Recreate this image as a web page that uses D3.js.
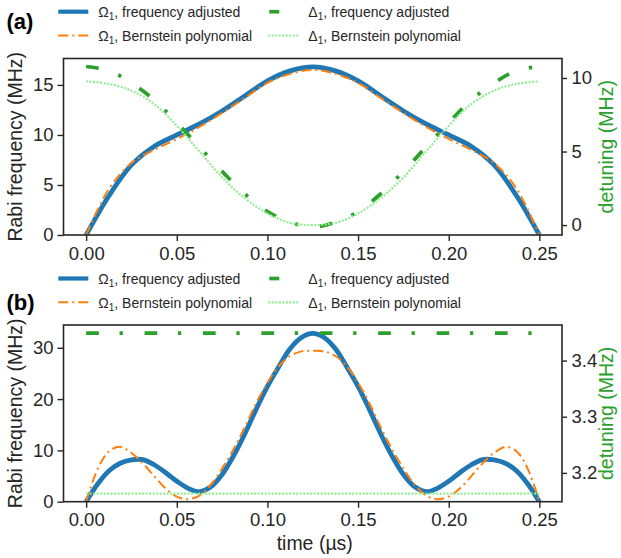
<!DOCTYPE html>
<html>
<head>
<meta charset="utf-8">
<script src="https://cdn.jsdelivr.net/npm/d3@7"></script>
<style>
  html, body { margin: 0; padding: 0; background: #fff; }
  svg { display: block; font-family: "Liberation Sans", Arial, Helvetica, sans-serif; }
</style>
</head>
<body>
<svg id="chart" width="621" height="558"></svg>
<script>
// ---- data -------------------------------------------------------------
const tickTimes = [0.00, 0.05, 0.10, 0.15, 0.20, 0.25];

// panel (a): sampled every 0.0125 µs
const timeA = [0, 0.0125, 0.025, 0.0375, 0.05, 0.0625, 0.075, 0.0875, 0.1, 0.1125, 0.125,
               0.1375, 0.15, 0.1625, 0.175, 0.1875, 0.2, 0.2125, 0.225, 0.2375, 0.25];
const omegaAdjA = [0, 3.9, 7.0, 8.85, 10.0, 11.1, 12.4, 13.9, 15.4, 16.4, 16.8,
                   16.4, 15.4, 13.9, 12.4, 11.1, 10.0, 8.85, 7.0, 3.9, 0];
const omegaBernA = [0, 4.6, 7.2, 8.5, 9.6, 10.8, 12.2, 13.7, 15.2, 16.1, 16.5,
                    16.1, 15.2, 13.7, 12.2, 10.8, 9.6, 8.5, 7.2, 4.6, 0];
const deltaAdjA = [10.78, 10.5, 9.66, 8.51, 6.96, 5.31, 3.65, 2.13, 0.92, 0.2, -0.13,
                   0.2, 0.92, 2.13, 3.65, 5.31, 6.96, 8.51, 9.66, 10.5, 10.78];
const deltaBernA = [9.77, 9.6, 9.14, 8.22, 6.75, 5.0, 3.24, 1.83, 0.79, 0.15, 0.0,
                    0.15, 0.79, 1.83, 3.24, 5.0, 6.75, 8.22, 9.14, 9.6, 9.77];

// panel (b): sampled every 0.00625 µs
const timeB = [0, 0.00625, 0.0125, 0.01875, 0.025, 0.03125, 0.0375, 0.04375, 0.05, 0.05625,
               0.0625, 0.06875, 0.075, 0.08125, 0.0875, 0.09375, 0.1, 0.10625, 0.1125, 0.11875,
               0.125, 0.13125, 0.1375, 0.14375, 0.15, 0.15625, 0.1625, 0.16875, 0.175, 0.18125,
               0.1875, 0.19375, 0.2, 0.20625, 0.2125, 0.21875, 0.225, 0.23125, 0.2375, 0.24375, 0.25];
const omegaAdjB = [0, 3.4, 6.0, 7.5, 8.15, 8.2, 7.2, 5.7, 4.0, 2.6,
                   1.95, 2.9, 5.3, 8.9, 13.2, 18.0, 22.5, 26.3, 29.8, 32.0,
                   32.8, 32.0, 29.8, 26.3, 22.5, 18.0, 13.2, 8.9, 5.3, 2.9,
                   1.95, 2.6, 4.0, 5.7, 7.2, 8.2, 8.15, 7.5, 6.0, 3.4, 0];
const omegaBernB = [0, 6.3, 9.8, 10.7, 9.5, 7.5, 5.0, 2.6, 1.0, 0.5,
                    1.2, 3.3, 6.5, 10.2, 14.5, 19.2, 23.2, 26.4, 28.4, 29.3,
                    29.4, 29.3, 28.4, 26.4, 23.2, 19.2, 14.5, 10.2, 6.5, 3.3,
                    1.2, 0.5, 1.0, 2.6, 5.0, 7.5, 9.5, 10.7, 9.8, 6.3, 0];
const timeBDetuning = [0, 0.25];
const deltaAdjB = [3.449, 3.449];
const deltaBernB = [3.163, 3.163];

const ticksLeftA = [0, 5, 10, 15];
const ticksRightA = [0, 5, 10];
const ticksLeftB = [0, 10, 20, 30];
const ticksRightB = [3.2, 3.3, 3.4];

// ---- styles -----------------------------------------------------------
const INK = "#262626";
const C_BLUE = "#1f77b4", C_ORANGE = "#ff7f0e", C_GREEN = "#2ca02c", C_LIGHT = "#90ee90";
const styles = {
  omegaAdj:  { stroke: C_BLUE,   width: 4.8, dash: null },
  omegaBern: { stroke: C_ORANGE, width: 2,   dash: "10,4,2,4" },
  deltaAdj:  { stroke: C_GREEN,  width: 3.7, dash: "12.7,20.7,3.3,21.7" },
  deltaBern: { stroke: C_LIGHT,  width: 2.2, dash: "2,1.5" }
};

const svg = d3.select("#chart");
const X0 = 63.5, X1 = 562;
const x = d3.scaleLinear().domain([-0.0125, 0.2625]).range([X0, X1]);

function padded(vals) {
  const lo = d3.min(vals), hi = d3.max(vals), r = hi - lo;
  return [lo - 0.05 * r, hi + 0.05 * r];
}

function drawPanel(p) {
  const g = svg.append("g");
  const yL = d3.scaleLinear().domain([0, d3.max(p.omegaAdj) * 1.05]).range([p.bottom, p.top]);
  const yR = d3.scaleLinear().domain(padded(p.deltaAdj.concat(p.deltaBern))).range([p.bottom, p.top]);

  const curve = d3.curveCatmullRom.alpha(0.5);
  const lineL = d3.line().x((d) => x(d[0])).y((d) => yL(d[1])).curve(curve);
  const lineR = d3.line().x((d) => x(d[0])).y((d) => yR(d[1])).curve(curve);

  const clip = "clip-" + p.name;
  svg.append("clipPath").attr("id", clip).append("rect")
    .attr("x", X0).attr("y", p.top).attr("width", X1 - X0).attr("height", p.bottom - p.top);

  const plot = g.append("g").attr("clip-path", `url(#${clip})`);
  function addLine(line, ts, vs, st) {
    plot.append("path")
      .attr("d", line(ts.map((t, i) => [t, vs[i]])))
      .attr("fill", "none")
      .attr("stroke", st.stroke)
      .attr("stroke-width", st.width)
      .attr("stroke-dasharray", st.dash)
      .attr("stroke-linecap", "butt")
      .attr("stroke-linejoin", "round");
  }
  addLine(lineL, p.time, p.omegaAdj, styles.omegaAdj);
  addLine(lineL, p.time, p.omegaBern, styles.omegaBern);
  addLine(lineR, p.timeDelta, p.deltaAdj, styles.deltaAdj);
  addLine(lineR, p.timeDelta, p.deltaBern, styles.deltaBern);

  // axes
  const fmt2 = d3.format(".2f");
  const axB = d3.axisBottom(x).tickValues(tickTimes).tickFormat(fmt2).tickSize(6).tickPadding(5.5);
  const axL = d3.axisLeft(yL).tickValues(p.ticksL).tickFormat(d3.format("d")).tickSize(6).tickPadding(4);
  const axR = d3.axisRight(yR).tickValues(p.ticksR).tickFormat(p.fmtR).tickSize(5).tickPadding(4.5);

  const gB = g.append("g").attr("transform", `translate(0,${p.bottom})`).call(axB);
  const gL = g.append("g").attr("transform", `translate(${X0},0)`).call(axL);
  const gR = g.append("g").attr("transform", `translate(${X1},0)`).call(axR);
  [gB, gL, gR].forEach((a) => {
    a.select(".domain").remove();
    a.selectAll(".tick line").attr("stroke", INK).attr("stroke-width", 1.4);
    a.selectAll(".tick text").attr("fill", INK).style("font-size", "18.5px")
      .style("font-family", "'Liberation Sans', Arial, sans-serif");
  });

  // frame
  g.append("rect").attr("x", X0).attr("y", p.top).attr("width", X1 - X0).attr("height", p.bottom - p.top)
    .attr("fill", "none").attr("stroke", INK).attr("stroke-width", 1.6);

  // axis titles
  const midY = (p.top + p.bottom) / 2;
  g.append("text").attr("transform", `translate(22,${midY}) rotate(-90)`)
    .attr("text-anchor", "middle").attr("fill", INK).style("font-size", "19.5px")
    .text("Rabi frequency (MHz)");
  g.append("text").attr("transform", `translate(612.5,${midY}) rotate(-90)`)
    .attr("text-anchor", "middle").attr("fill", C_GREEN).style("font-size", "19.5px")
    .text("detuning (MHz)");

  // panel letter
  g.append("text").attr("x", 6.5).attr("y", p.letterY).attr("fill", "#000")
    .style("font-size", "22px").style("font-weight", "bold").text(p.letter);

  // legend
  const entries = [
    { st: styles.omegaAdj,  sym: "Ω", txt: ", frequency adjusted",  col: 0, row: 0, legDash: null },
    { st: styles.omegaBern, sym: "Ω", txt: ", Bernstein polynomial", col: 0, row: 1, legDash: styles.omegaBern.dash },
    { st: styles.deltaAdj,  sym: "Δ", txt: ", frequency adjusted",  col: 1, row: 0, legDash: "10,30" },
    { st: styles.deltaBern, sym: "Δ", txt: ", Bernstein polynomial", col: 1, row: 1, legDash: styles.deltaBern.dash }
  ];
  const colX = [58.3, 268.3];
  entries.forEach((e) => {
    const lx = colX[e.col];
    const ly = p.legendY + e.row * 23.8;
    g.append("line").attr("x1", lx + (e.col === 1 && e.row === 0 ? 1 : 0)).attr("x2", lx + 30)
      .attr("y1", ly).attr("y2", ly)
      .attr("stroke", e.st.stroke).attr("stroke-width", Math.min(e.st.width, 4.2))
      .attr("stroke-dasharray", e.legDash);
    const t = g.append("text").attr("x", lx + 40).attr("y", ly + 5.6)
      .attr("fill", INK).style("font-size", "14px");
    t.append("tspan").text(e.sym);
    t.append("tspan").attr("dy", 3).style("font-size", "10px").text("1");
    t.append("tspan").attr("dy", -3).text(e.txt);
  });
}

drawPanel({
  name: "a", letter: "(a)", letterY: 28.5, legendY: 11.7,
  top: 58.5, bottom: 235,
  time: timeA, omegaAdj: omegaAdjA, omegaBern: omegaBernA,
  timeDelta: timeA, deltaAdj: deltaAdjA, deltaBern: deltaBernA,
  ticksL: ticksLeftA, ticksR: ticksRightA, fmtR: d3.format("d")
});

drawPanel({
  name: "b", letter: "(b)", letterY: 309.5, legendY: 278.5,
  top: 325, bottom: 501.7,
  time: timeB, omegaAdj: omegaAdjB, omegaBern: omegaBernB,
  timeDelta: timeBDetuning, deltaAdj: deltaAdjB, deltaBern: deltaBernB,
  ticksL: ticksLeftB, ticksR: ticksRightB, fmtR: d3.format(".1f")
});

// shared x-axis title
svg.append("text").attr("x", (X0 + X1) / 2 + 2).attr("y", 550).attr("text-anchor", "middle")
  .attr("fill", INK).style("font-size", "19.5px").text("time (µs)");
</script>
</body>
</html>
